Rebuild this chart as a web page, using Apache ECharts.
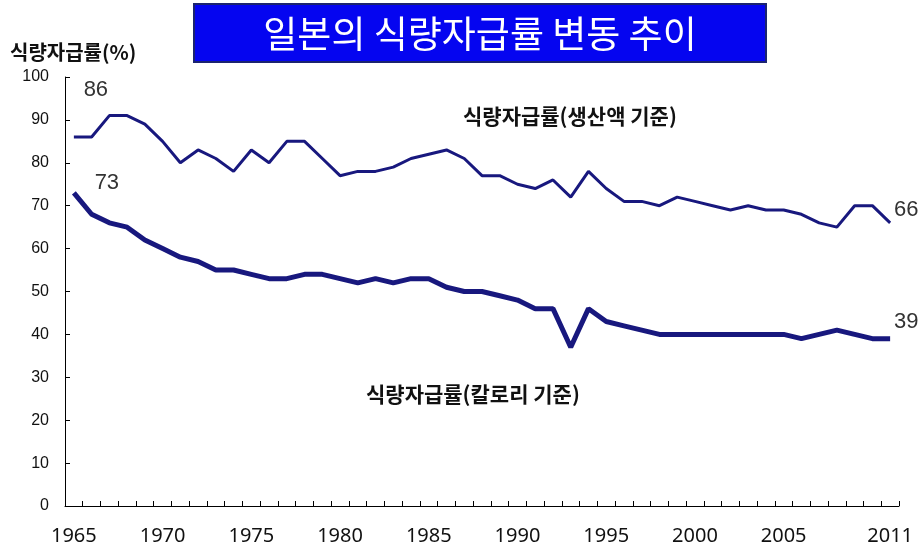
<!DOCTYPE html>
<html><head><meta charset="utf-8">
<script src="https://cdn.jsdelivr.net/npm/echarts@6/dist/echarts.min.js"></script>
</head>
<body style="margin:0;background:#fff">
<div id="c" style="width:920px;height:553px"></div>
<script>
const years = ['1965','1966','1967','1968','1969','1970','1971','1972','1973','1974','1975','1976','1977','1978','1979','1980','1981','1982','1983','1984','1985','1986','1987','1988','1989','1990','1991','1992','1993','1994','1995','1996','1997','1998','1999','2000','2001','2002','2003','2004','2005','2006','2007','2008','2009','2010','2011'];
const shownYears = ['1965','1970','1975','1980','1985','1990','1995','2000','2005','2011'];
const production = [86,86,91,91,89,85,80,83,81,78,83,80,85,85,81,77,78,78,79,81,82,83,81,77,77,75,74,76,72,78,74,71,71,70,72,71,70,69,70,69,69,68,66,65,70,70,66];
const calorie = [73,68,66,65,62,60,58,57,55,55,54,53,53,54,54,53,52,53,52,53,53,51,50,50,49,48,46,46,37,46,43,42,41,40,40,40,40,40,40,40,40,39,40,41,40,39,39];
const titleText = '일본의 식량자급률 변동 추이';
const yName = '식량자급률(%)';
const prodName = '식량자급률(생산액 기준)';
const calName = '식량자급률(칼로리 기준)';

const lineColor = '#18187e';
const numFont = {fontFamily:'"Liberation Sans", Arial, sans-serif', fontSize:22, color:'#333'};
const last = years.length - 1;

const chart = echarts.init(document.getElementById('c'), null, {renderer:'canvas'});
chart.setOption({
  animation:false,
  backgroundColor:'#fff',
  grid:{left:65, right:21, top:77, bottom:47, containLabel:false},
  xAxis:{
    type:'category', data:years, boundaryGap:true,
    axisLine:{lineStyle:{color:'#000', width:1}},
    axisTick:{show:true, inside:true, length:5, interval:0, lineStyle:{color:'#000'}},
    axisLabel:{
      interval:(i, v) => shownYears.includes(v),
      margin:20, fontSize:20, color:'#111', fontFamily:'"Noto Sans", sans-serif'
    },
    splitLine:{show:false}
  },
  yAxis:{
    type:'value', min:0, max:100, interval:10,
    axisLine:{show:true, lineStyle:{color:'#000', width:1}},
    axisTick:{show:true, inside:true, length:5, lineStyle:{color:'#000'}},
    axisLabel:{margin:16, fontSize:16, color:'#111', fontFamily:'"Liberation Sans", Arial, sans-serif'},
    splitLine:{show:false}
  },
  series:[
    {
      name:prodName, type:'line', data:production, symbol:'none',
      lineStyle:{color:lineColor, width:3}, itemStyle:{color:lineColor},
      markPoint:{
        symbol:'circle', symbolSize:0, silent:true,
        data:[
          {coord:[years[0], production[0]], value:production[0], label:{offset:[22,-47]}},
          {coord:[years[last], production[last]], value:production[last], label:{offset:[16,-13]}}
        ],
        label:Object.assign({show:true, position:'inside'}, numFont)
      }
    },
    {
      name:calName, type:'line', data:calorie, symbol:'none',
      lineStyle:{color:lineColor, width:5}, itemStyle:{color:lineColor},
      markPoint:{
        symbol:'circle', symbolSize:0, silent:true,
        data:[
          {coord:[years[0], calorie[0]], value:calorie[0], label:{offset:[33,-10]}},
          {coord:[years[last], calorie[last]], value:calorie[last], label:{offset:[16,-17]}}
        ],
        label:Object.assign({show:true, position:'inside'}, numFont)
      }
    }
  ],
  graphic:[
    {type:'rect', shape:{x:194, y:4, width:572, height:58}, style:{fill:'#0505f0', stroke:'#1b2470', lineWidth:2}},
    {type:'text', x:480, y:34, style:{text:titleText, fill:'#fff', fontSize:37, fontFamily:'"Noto Sans CJK KR", sans-serif', align:'center', verticalAlign:'middle'}},
    {type:'text', x:10, y:52, style:{text:yName, fill:'#111', fontSize:20, fontWeight:'bold', fontFamily:'"Noto Sans CJK KR", sans-serif', align:'left', verticalAlign:'middle'}},
    {type:'text', x:463, y:116, style:{text:prodName, fill:'#111', fontSize:21, fontWeight:'bold', fontFamily:'"Noto Sans CJK KR", sans-serif', align:'left', verticalAlign:'middle'}},
    {type:'text', x:366, y:394, style:{text:calName, fill:'#111', fontSize:21, fontWeight:'bold', fontFamily:'"Noto Sans CJK KR", sans-serif', align:'left', verticalAlign:'middle'}}
  ]
});
</script>
</body></html>
